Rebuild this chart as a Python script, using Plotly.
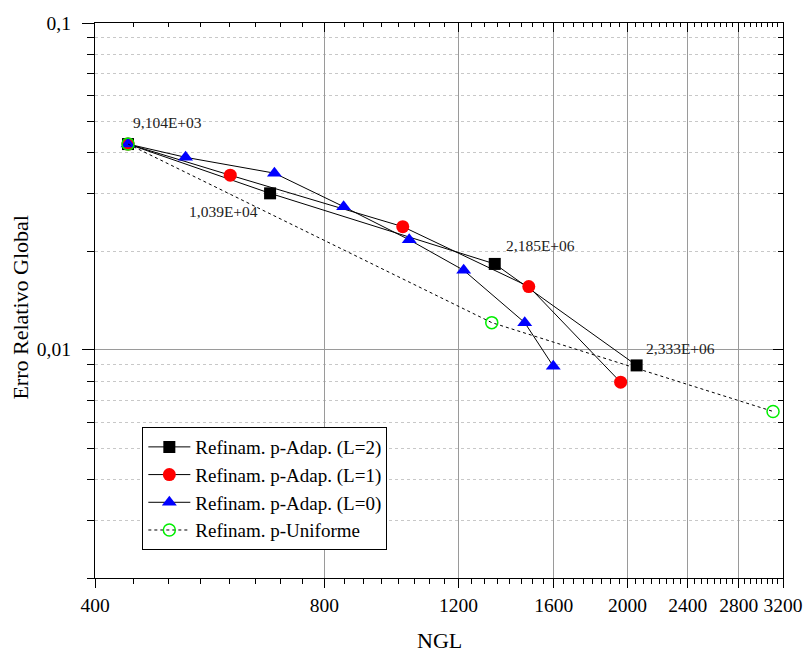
import plotly.graph_objects as go
import math

# ---- data ----
x_L2 = [442, 679, 1339, 2056]
y_L2 = [0.0426, 0.0301, 0.0183, 0.00895]

x_L1 = [442, 602, 1014, 1484, 1959]
y_L1 = [0.0426, 0.0342, 0.0238, 0.0156, 0.00795]

x_L0 = [442, 526, 688, 848, 1034, 1219, 1466, 1598]
y_L0 = [0.0426, 0.0388, 0.0347, 0.0274, 0.0217, 0.0175, 0.0121, 0.0089]

x_U = [442, 1327, 3105]
y_U = [0.0426, 0.0121, 0.00647]

point_labels = ["9,104E+03", "1,039E+04", "2,185E+06", "2,333E+06"]  # on L=2 points

series_names = ["Refinam. p-Adap. (L=2)", "Refinam. p-Adap. (L=1)",
                "Refinam. p-Adap. (L=0)", "Refinam. p-Uniforme"]

x_ticks = [400, 800, 1200, 1600, 2000, 2400, 2800, 3200]
x_minor = [v for v in range(450, 3200, 50) if v % 400 != 0]
y_ticks = [0.01, 0.1]
y_ticktext = ["0,01", "0,1"]
y_minor = [m * 0.001 for m in range(2, 10)] + [m * 0.01 for m in range(2, 10)]

FONT = "Liberation Serif"

fig = go.Figure()

fig.add_trace(go.Scatter(
    x=x_L2, y=y_L2, name=series_names[0], mode="lines+markers",
    line=dict(color="black", width=1),
    marker=dict(symbol="square", size=12, color="black")))
fig.add_trace(go.Scatter(
    x=x_L1, y=y_L1, name=series_names[1], mode="lines+markers",
    line=dict(color="black", width=1),
    marker=dict(symbol="circle", size=13, color="#ff0000")))
fig.add_trace(go.Scatter(
    x=x_L0, y=y_L0, name=series_names[2], mode="lines+markers",
    line=dict(color="black", width=1),
    marker=dict(symbol="triangle-up", size=13, color="#0000ff")))
fig.add_trace(go.Scatter(
    x=x_U, y=y_U, name=series_names[3], mode="lines+markers",
    line=dict(color="black", width=1, dash="3px,3px"),
    marker=dict(symbol="circle-open", size=12, color="#00ee00",
                line=dict(width=1.5, color="#00ee00"))))

# dummy trace for the mirrored (inside) tick axes
fig.add_trace(go.Scatter(x=[None], y=[None], xaxis="x2", yaxis="y2",
                         showlegend=False, hoverinfo="skip"))

xr = [math.log10(400), math.log10(3200)]
yr = [math.log10(0.002), -1]

fig.update_layout(
    width=803, height=652,
    margin=dict(l=95, r=20, t=23, b=74, autoexpand=False),
    paper_bgcolor="white", plot_bgcolor="white",
    font=dict(family=FONT, color="black", size=19),
    showlegend=True,
    legend=dict(x=0.0688, y=0.272, xanchor="left", yanchor="top",
                bordercolor="black", borderwidth=1, bgcolor="white",
                font=dict(family=FONT, size=19, color="black"),
                itemwidth=42, tracegroupgap=0),
    xaxis=dict(
        type="log", range=xr, automargin=False,
        tickmode="array", tickvals=x_ticks, ticktext=[str(v) for v in x_ticks],
        ticks="outside", ticklen=9, tickwidth=1.2, tickcolor="black",
        showline=True, linecolor="black", linewidth=1.3, mirror=True,
        showgrid=True, gridcolor="#9a9a9a", gridwidth=1,
        zeroline=False,
        tickfont=dict(family=FONT, size=19.5),
        minor=dict(tickvals=x_minor, ticks="outside", ticklen=5,
                   tickwidth=1, tickcolor="black", showgrid=False),
    ),
    yaxis=dict(
        type="log", range=yr, automargin=False,
        tickmode="array", tickvals=y_ticks, ticktext=y_ticktext,
        ticks="outside", ticklen=12, tickwidth=1.2, tickcolor="black",
        showline=True, linecolor="black", linewidth=1.3, mirror=True,
        showgrid=True, gridcolor="#9a9a9a", gridwidth=1,
        zeroline=False, ticklabelstandoff=7,
        tickfont=dict(family=FONT, size=19.5),
        minor=dict(tickvals=y_minor, ticks="outside", ticklen=7,
                   tickwidth=1, tickcolor="black", showgrid=True,
                   gridcolor="#c8c8c8", griddash="dot", gridwidth=1),
    ),
    xaxis2=dict(
        type="log", range=xr, overlaying="x", side="top", anchor="y2",
        automargin=False,
        tickmode="array", tickvals=x_ticks, showticklabels=False,
        ticks="inside", ticklen=9, tickwidth=1.2, tickcolor="black",
        showline=False, showgrid=False, zeroline=False,
        minor=dict(tickvals=x_minor, ticks="inside", ticklen=4,
                   tickwidth=1, tickcolor="black", showgrid=False),
    ),
    yaxis2=dict(
        type="log", range=yr, overlaying="y", side="right", anchor="x2",
        automargin=False,
        tickmode="array", tickvals=y_ticks, showticklabels=False,
        ticks="inside", ticklen=10, tickwidth=1.2, tickcolor="black",
        showline=False, showgrid=False, zeroline=False,
        minor=dict(tickvals=y_minor, ticks="inside", ticklen=5,
                   tickwidth=1, tickcolor="black", showgrid=False),
    ),
)

# axis titles
fig.add_annotation(text="NGL", xref="paper", yref="paper",
                   x=0.5, y=-0.113, xanchor="center", yanchor="middle",
                   showarrow=False, font=dict(family=FONT, size=22, color="black"))
fig.add_annotation(text="Erro Relativo Global", xref="paper", yref="paper",
                   x=-0.1076, y=0.489, xanchor="center", yanchor="middle",
                   textangle=-90, showarrow=False,
                   font=dict(family=FONT, size=22, color="black"))

# point labels (anchored on the L=2 points)
shifts = [(39, 21.5), (-47, -18.5), (46, 18), (44, 17)]
for lab, px, py, (dx, dy) in zip(point_labels, x_L2, y_L2, shifts):
    fig.add_annotation(text=lab, x=math.log10(px), y=math.log10(py),
                       xref="x", yref="y", showarrow=False,
                       xshift=dx, yshift=dy,
                       font=dict(family=FONT, size=15.5, color="#222222"))

fig.write_html("out.html",
               config={"displayModeBar": False},
               post_script="document.body.style.margin='0';document.body.style.overflow='hidden';")
